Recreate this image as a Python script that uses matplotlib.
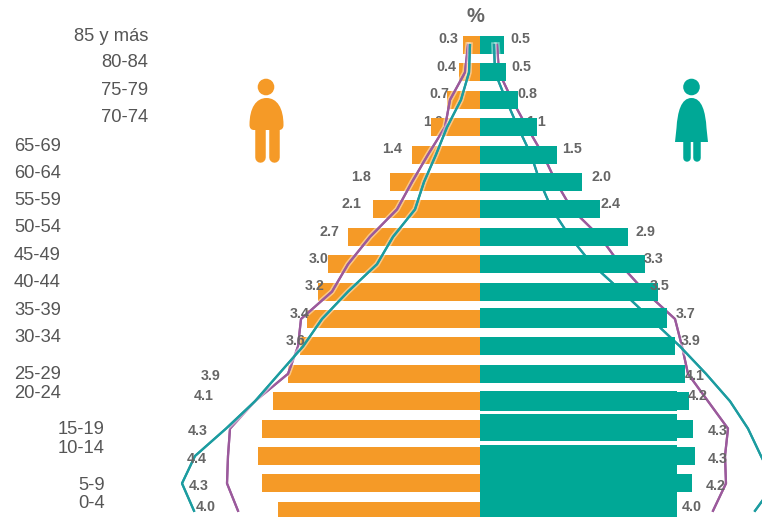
import matplotlib
matplotlib.use("Agg")
import matplotlib.pyplot as plt
import matplotlib.patheffects as pe
from matplotlib.patches import PathPatch, Circle
from matplotlib.path import Path
from matplotlib.transforms import Affine2D

# ---------- data (top row = oldest group) ----------
age_groups = ["85 y más", "80-84", "75-79", "70-74", "65-69", "60-64", "55-59", "50-54", "45-49",
              "40-44", "35-39", "30-34", "25-29", "20-24", "15-19", "10-14", "5-9", "0-4"]
male_labels = ["0.3", "0.4", "0.7", "1.0", "1.4", "1.8", "2.1", "2.7", "3.0",
               "3.2", "3.4", "3.6", "3.9", "4.1", "4.3", "4.4", "4.3", "4.0"]
female_labels = ["0.5", "0.5", "0.8", "1.1", "1.5", "2.0", "2.4", "2.9", "3.3",
                 "3.5", "3.7", "3.9", "4.1", "4.2", "4.3", "4.3", "4.2", "4.0"]
male_bars = [0.34, 0.42, 0.66, 0.98, 1.36, 1.80, 2.14, 2.64, 3.04,
             3.24, 3.46, 3.60, 3.84, 4.14, 4.36, 4.44, 4.36, 4.04]
female_bars = [0.48, 0.52, 0.76, 1.14, 1.54, 2.04, 2.40, 2.96, 3.30,
               3.56, 3.74, 3.90, 4.10, 4.18, 4.26, 4.30, 4.24, 3.94]
male_purple = [0.24, 0.30, 0.60, 0.70, 1.04, 1.36, 1.66, 2.20, 2.64,
               2.96, 3.58, 3.64, 3.84, 4.50, 5.00, 5.04, 5.06, 4.84]
male_teal = [0.20, 0.22, 0.38, 0.66, 0.88, 1.12, 1.30, 1.74, 2.06,
             2.64, 3.16, 3.54, 4.02, 4.50, 5.08, 5.70, 5.96, 5.72]
female_purple = [0.34, 0.38, 0.64, 0.94, 1.26, 1.52, 1.84, 2.40, 2.80,
                 3.30, 3.90, 4.04, 4.16, 4.56, 4.96, 4.90, 4.92, 4.66]
female_teal = [0.28, 0.30, 0.52, 0.76, 1.02, 1.20, 1.44, 1.80, 2.24,
               2.84, 3.42, 4.00, 4.52, 5.00, 5.36, 5.62, 5.90, 5.50]
backing_widths = [3.74, 3.94, 3.94, 3.94]

# ---------- layout (pixels of the 762x517 canvas) ----------
W, H = 762, 517
X0, PX_PER_UNIT = 480, 50
ROW0, ROW_STEP, BAR_PX = 45, 27.4, 18
age_x = [74, 101, 101, 101, 14, 14, 14, 14, 14, 14, 14, 14, 14, 14, 58, 58, 78, 78]
age_y = [37, 63, 91, 118, 147, 174, 201, 228, 256, 283, 311, 338, 375, 394, 430, 449, 485, 504]
male_label_x = [448, 446, 439, 433, 392, 361, 351, 329, 319, 315, 300, 296, 211, 204, 198, 197, 199, 206]
female_label_x = [520, 521, 527, 536, 572, 601, 610, 645, 654, 660, 686, 691, 695, 698, 718, 718, 716, 692]
label_y = [39, 67, 94, 122, 149, 177, 204, 232, 259, 286, 314, 341, 376, 396, 431, 459, 486, 507]
backing_top = [308, 391, 414, 445]
backing_bottom = [328, 411, 441, 525]

ORANGE = "#F59A27"
GREEN = "#00A896"
PURPLE = "#9B5A9C"
TEAL = "#1C9CA0"
GREY = "#666666"
TEXT = "#555555"
SANS = "Liberation Sans"

fig = plt.figure(figsize=(W / 100, H / 100), dpi=100, facecolor="white")
ax = fig.add_axes([0, 0, 1, 1])
ax.set_xlim(-X0 / PX_PER_UNIT, (W - X0) / PX_PER_UNIT)
ax.set_ylim((H - ROW0) / ROW_STEP, -ROW0 / ROW_STEP)
ax.axis("off")


def to_x(px):
    return (px - X0) / PX_PER_UNIT


def to_row(py):
    return (py - ROW0) / ROW_STEP


rows = list(range(len(age_groups)))
bar_h = BAR_PX / ROW_STEP

# row 0 sits under the lines, every other female bar sits over them
ax.barh(rows[:1], [-v for v in male_bars[:1]], height=bar_h, color=ORANGE, zorder=1)
ax.barh(rows[:1], female_bars[:1], height=bar_h, color=GREEN, zorder=1)
ax.barh(rows[1:], [-v for v in male_bars[1:]], height=bar_h, color=ORANGE, zorder=1)
ax.barh(rows[1:], female_bars[1:], height=bar_h, color=GREEN, zorder=3)
for top, bottom, width in zip(backing_top, backing_bottom, backing_widths):
    ax.barh(to_row((top + bottom) / 2), width, height=(bottom - top) / ROW_STEP, color=GREEN, zorder=3)

halo = [pe.withStroke(linewidth=4.0, foreground="white", alpha=0.45), pe.Normal()]
ax.plot(female_purple, rows, color=PURPLE, lw=1.6, zorder=2, path_effects=halo)
ax.plot(female_teal, rows, color=TEAL, lw=1.6, zorder=2, path_effects=halo)
ax.plot([-v for v in male_purple], rows, color=PURPLE, lw=1.6, zorder=4, path_effects=halo)
ax.plot([-v for v in male_teal], rows, color=TEAL, lw=1.6, zorder=4, path_effects=halo)

# value labels: the two at 70-74 are partly covered by their bars
for i, (mx, fx, ly, ml, fl) in enumerate(zip(male_label_x, female_label_x, label_y, male_labels, female_labels)):
    z_m = 0.5 if i == 3 else 5
    z_f = 2.5 if i == 3 else 5
    ax.text(to_x(mx), to_row(ly), ml, ha="center", va="center", family=SANS, weight="bold",
            fontsize=10.3, color=GREY, zorder=z_m)
    ax.text(to_x(fx), to_row(ly), fl, ha="center", va="center", family=SANS, weight="bold",
            fontsize=10.3, color=GREY, zorder=z_f)

# age labels and unit
for name, ax_px, ay_px in zip(age_groups, age_x, age_y):
    ax.text(to_x(ax_px), to_row(ay_px), name, ha="left", va="center", family=SANS,
            fontsize=13.2, color=TEXT, zorder=5)
ax.text(to_x(475), to_row(17), "%", ha="center", va="center", family=SANS, weight="bold",
        fontsize=14.5, color=GREY, zorder=5)

# figure icons, drawn in canvas pixels
px = Affine2D().scale(1, -1).translate(0, H)
M, C, L, Z = Path.MOVETO, Path.CURVE4, Path.LINETO, Path.CLOSEPOLY


def add_shape(verts, codes, color):
    ax.add_patch(PathPatch(Path(verts, codes), facecolor=color, edgecolor="none",
                           transform=px, clip_on=False, zorder=6))


def add_leg(x, top, bottom, width, color):
    ax.plot([x, x], [top, bottom], color=color, lw=width * 0.72, solid_capstyle="round",
            transform=px, clip_on=False, zorder=6)


ax.add_patch(Circle((266, 87), 8.3, facecolor=ORANGE, edgecolor="none", transform=px, zorder=6))
add_shape([(249.5, 125), (249.5, 108), (256, 98), (266.5, 98), (277, 98), (283.5, 108), (283.5, 125),
           (283.5, 128), (282, 130), (279, 130), (254, 130), (251, 130), (249.5, 128), (249.5, 125), (249.5, 125)],
          [M, C, C, C, C, C, C, C, C, C, L, C, C, C, Z], ORANGE)
add_leg(259.5, 125, 157, 10.5, ORANGE)
add_leg(273.5, 125, 157, 10.5, ORANGE)

ax.add_patch(Circle((691.5, 87), 8.3, facecolor=GREEN, edgecolor="none", transform=px, zorder=6))
add_shape([(691.5, 98), (681, 98), (677.5, 112), (676.5, 128), (675, 142), (708, 142), (706.5, 128),
           (705.5, 112), (702, 98), (691.5, 98), (691.5, 98)],
          [M, C, C, C, L, L, L, C, C, C, Z], GREEN)
add_leg(687, 138, 158, 7.5, GREEN)
add_leg(696.5, 138, 158, 7.5, GREEN)

fig.savefig("out.png", dpi=100, facecolor="white")
